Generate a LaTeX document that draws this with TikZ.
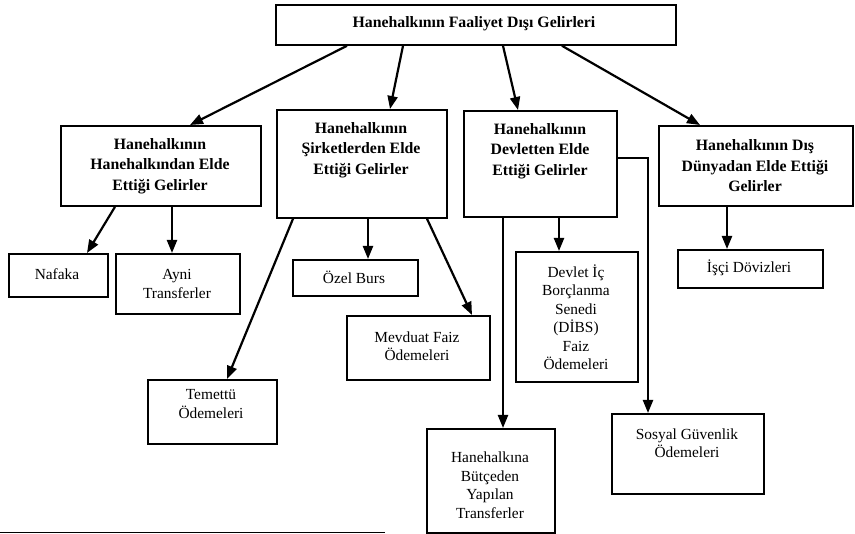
\documentclass[tikz,border=0pt]{standalone}
\usepackage{fontspec}
\setmainfont{Liberation Serif}
\usetikzlibrary{arrows.meta}
\tikzset{
  boxnode/.style={draw, line width=1.8pt, inner sep=0pt, anchor=north west},
  headtxt/.style={font=\bfseries\fontsize{15.8}{20.5}\selectfont, align=center, inner sep=0pt},
  leaftxt/.style={font=\fontsize{15.4}{18.5}\selectfont, align=center, inner sep=0pt},
  arr/.style={line width=2.2pt, -{Triangle[length=13pt,width=10pt]}},
}
\begin{document}
\begin{tikzpicture}[x=1pt,y=-1pt]
\useasboundingbox (0,0) rectangle (855,534);

% boxes
\node[boxnode, minimum width=400pt, minimum height=40pt] (top) at (275,4) {};
\node[boxnode, minimum width=200pt, minimum height=80pt] (A) at (60,125) {};
\node[boxnode, minimum width=170pt, minimum height=108pt] (B) at (276,109) {};
\node[boxnode, minimum width=153pt, minimum height=106pt] (C) at (463,110) {};
\node[boxnode, minimum width=194pt, minimum height=80pt] (D) at (658,125) {};
\node[boxnode, minimum width=99pt, minimum height=43pt] (naf) at (8,253) {};
\node[boxnode, minimum width=124pt, minimum height=60pt] (ayni) at (115,253) {};
\node[boxnode, minimum width=125pt, minimum height=36pt] (ozel) at (292,259) {};
\node[boxnode, minimum width=143pt, minimum height=64pt] (mev) at (346,315) {};
\node[boxnode, minimum width=122pt, minimum height=130pt] (dibs) at (515,251) {};
\node[boxnode, minimum width=129pt, minimum height=64pt] (tem) at (147,379) {};
\node[boxnode, minimum width=128pt, minimum height=104pt] (but) at (426,428) {};
\node[boxnode, minimum width=152pt, minimum height=80pt] (sos) at (611,413) {};
\node[boxnode, minimum width=145pt, minimum height=38pt] (isci) at (677,249) {};

% texts
\node[headtxt] (topt) at (474,24) {Hanehalkının Faaliyet Dışı Gelirleri};
\node[headtxt] (At) at (160,166) {Hanehalkının\\Hanehalkından Elde\\Ettiği Gelirler};
\node[headtxt] (Bt) at (361,150) {Hanehalkının\\Şirketlerden Elde\\Ettiği Gelirler};
\node[headtxt] (Ct) at (540,151) {Hanehalkının\\Devletten Elde\\Ettiği Gelirler};
\node[headtxt] (Dt) at (755,166) {Hanehalkının Dış\\Dünyadan Elde Ettiği\\Gelirler};
\node[leaftxt] (naft) at (57,274) {Nafaka};
\node[leaftxt] (aynit) at (177,284) {Ayni\\Transferler};
\node[leaftxt] (ozelt) at (354,277) {Özel Burs};
\node[leaftxt] (mevt) at (417,346) {Mevduat Faiz\\Ödemeleri};
\node[leaftxt] (dibst) at (576,317) {Devlet İç\\Borçlanma\\Senedi\\(DİBS)\\Faiz\\Ödemeleri};
\node[leaftxt] (temt) at (211,404) {Temettü\\Ödemeleri};
\node[leaftxt] (butt) at (490,485) {Hanehalkına\\Bütçeden\\Yapılan\\Transferler};
\node[leaftxt] (sost) at (687,443) {Sosyal Güvenlik\\Ödemeleri};
\node[leaftxt] (iscit) at (749,268) {İşçi Dövizleri};

% connectors
\draw[arr] ([xshift=72pt]top.south west) -- ([xshift=130pt]A.north west);
\draw[arr] ([xshift=128pt]top.south west) -- ([xshift=114pt]B.north west);
\draw[arr] ([xshift=228pt]top.south west) -- ([xshift=55pt]C.north west);
\draw[arr] ([xshift=287pt]top.south west) -- ([xshift=42pt]D.north west);
\draw[arr] ([xshift=55pt]A.south west) -- ([xshift=79pt]naf.north west);
\draw[arr] ([xshift=112pt]A.south west) -- ([xshift=57pt]ayni.north west);
\draw[arr] ([xshift=17pt]B.south west) -- ([xshift=80pt]tem.north west);
\draw[arr] ([xshift=92pt]B.south west) -- ([xshift=76pt]ozel.north west);
\draw[arr] ([xshift=151pt]B.south west) -- ([xshift=126pt]mev.north west);
\draw[arr] ([xshift=40pt]C.south west) -- ([xshift=77pt]but.north west);
\draw[arr] ([xshift=96pt]C.south west) -- ([xshift=44pt]dibs.north west);
\draw[arr] ([yshift=6pt]C.east) -| ([xshift=37pt]sos.north west);
\draw[arr] ([xshift=69pt]D.south west) -- ([xshift=50pt]isci.north west);

% footnote rule
\coordinate (fl) at (0,532.5);
\coordinate (fr) at (385,532.5);
\draw[line width=1.5pt] (fl) -- (fr);
\end{tikzpicture}
\end{document}
